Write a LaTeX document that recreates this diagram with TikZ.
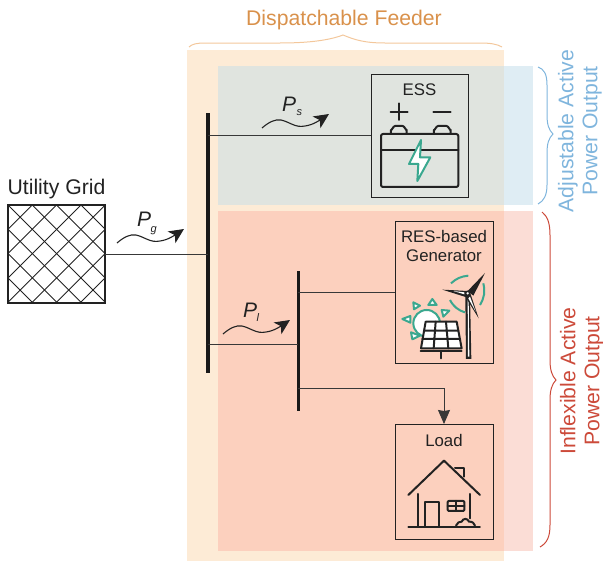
\documentclass[tikz,border=0pt]{standalone}
\usepackage{fontspec}
\setmainfont{Liberation Sans}
\usetikzlibrary{arrows.meta}
\definecolor{feederbg}{HTML}{FDEBD6}
\definecolor{adjbg}{HTML}{DFEDF4}
\definecolor{adjin}{HTML}{E0E4DF}
\definecolor{infbg}{HTML}{FBDDD6}
\definecolor{infin}{HTML}{FCD0BE}
\definecolor{orangetxt}{HTML}{D9914B}
\definecolor{orangebr}{HTML}{F3C79B}
\definecolor{bluetxt}{HTML}{7FB5DD}
\definecolor{redtxt}{HTML}{CC4A3A}
\definecolor{teal1}{HTML}{3AA88F}
\definecolor{ink}{HTML}{222222}
\tikzset{
  conn/.style={draw=ink!90,line width=0.9pt},
  box/.style={draw=ink,line width=0.9pt,inner sep=0pt,outer sep=0pt},
  bus/.style={fill=black!90,inner sep=0pt,outer sep=0pt},
  big/.style={font=\fontsize{21.2}{24}\selectfont,inner sep=0pt,align=center},
  small/.style={font=\fontsize{16.8}{19}\selectfont,text=ink,inner sep=0pt,align=center},
  flow/.style={line width=1.1pt,draw=ink,-{Stealth[length=15pt,width=14pt,inset=4pt]}},
  sym/.style={font=\fontsize{21}{21}\selectfont\itshape,text=ink,inner sep=0pt,anchor=base west},
  sub/.style={font=\fontsize{11}{11}\selectfont\itshape,text=ink,inner sep=0pt,anchor=base west},
  icon/.style={draw=ink,line width=2pt,line cap=round,line join=round},
  tealline/.style={draw=teal1,line width=2pt,line join=round},
  zoomA/.style={shift={(360,60)},x=0.3333pt,y=-0.3333pt},
  zoomB/.style={shift={(385,215)},x=0.3333pt,y=-0.3333pt},
  zoomC/.style={shift={(385,380)},x=0.3333pt,y=-0.3333pt},
}
\begin{document}
\begin{tikzpicture}[x=1pt,y=-1pt]
\useasboundingbox (0,0) rectangle (603,562);
% backgrounds
\fill[feederbg] (187,50) rectangle (504,561);
\fill[adjbg] (504,66) rectangle (533,205);
\fill[adjin] (218,66) rectangle (504,205);
\fill[infbg] (504,211) rectangle (533,551);
\fill[infin] (218,211) rectangle (504,551);
% braces
\draw[orangebr,line width=1pt] (189,47) .. controls (192,44) and (197,43) .. (205,43) -- (280,43) .. controls (310,43) and (330,40) .. (343,35) .. controls (355,40) and (365,43) .. (385,43) -- (480,43) .. controls (490,43) and (497,44) .. (502,47);
\draw[bluetxt,line width=1pt] (538,67) .. controls (544,69) and (547,74) .. (547,85) -- (547,115) .. controls (547,125) and (549,130) .. (553,134) .. controls (549,138) and (547,143) .. (547,153) -- (547,185) .. controls (547,195) and (544,201) .. (538,204);
\draw[redtxt,line width=1pt] (542,212) .. controls (547,216) and (550,222) .. (550,235) -- (550,360) .. controls (550,370) and (552,376) .. (556,380) .. controls (552,384) and (550,390) .. (550,400) -- (550,525) .. controls (550,537) and (547,543) .. (540,547);
% titles
\node[big,text=orangetxt] (feedertxt) at (344,20) {Dispatchable Feeder};
\node[big,text=bluetxt,rotate=90] (adjtxt) at (580,131) {Adjustable Active\\Power Output};
\node[big,text=redtxt,rotate=90] (inftxt) at (582,381) {Inflexible Active\\Power Output};
\node[big,text=ink] (gridtxt) at (56.5,189) {Utility Grid};
% boxes
\node[box,minimum width=97pt,minimum height=98pt] (grid) at (56.5,254) {};
\node[box,minimum width=97pt,minimum height=123pt] (ess) at (419.5,135.5) {};
\node[box,minimum width=98pt,minimum height=142pt] (res) at (444,292) {};
\node[box,minimum width=98pt,minimum height=115pt] (load) at (444,481.5) {};
\node[bus,minimum width=4pt,minimum height=260pt] (busA) at (207.5,243) {};
\node[bus,minimum width=3pt,minimum height=140pt] (busB) at (298,341) {};
% hatch
\begin{scope}
\clip (8,205) rectangle (105,303);
\foreach \k in {-4,...,8}{
  \draw[ink,line width=0.9pt] ({8+\k*24.3},205) -- ++(100,100);
  \draw[ink,line width=0.9pt] ({8+\k*24.3},205) -- ++(-100,100);
}
\end{scope}
\draw[ink,line width=1.4pt] (grid.north west) rectangle (grid.south east);
% connectors
\coordinate (tapL) at (298,344);
\coordinate (tapD) at (298,388);
\draw[conn] (grid.east) -- (grid.east -| busA.center);
\draw[conn] (ess.west) -- (ess.west -| busA.center);
\draw[conn] (busA.center |- tapL) -- (tapL);
\draw[conn] (res.west) -- (res.west -| busB.center);
\draw[conn,-{Stealth[length=14pt,width=12pt,inset=1pt]}] (tapD) -| (load.north);
% flows
\foreach \dx/\dy in {0/0,145/-115,106/91}{
  \begin{scope}[shift={(\dx,\dy)}]
  \coordinate (fa) at (117,243);
  \coordinate (fb) at (136,235);
  \coordinate (fc) at (160,241);
  \coordinate (fd) at (184,229);
  \draw[flow] (fa) .. controls (124,237) and (130,234) .. (fb) .. controls (145,237) and (150,243) .. (fc) .. controls (168,240) and (175,235) .. (fd);
  \end{scope}
}
\node[sym] (pg) at (137,226) {P};
\node[sub] (pgs) at (150.5,232) {g};
\node[sym] (ps) at (282,111) {P};
\node[sub] (pss) at (296.5,115) {s};
\node[sym] (pl) at (243,317) {P};
\node[sub] (pls) at (256.5,321) {l};
% box titles
\node[small] (esst) at (419.5,90) {ESS};
\node[small] (rest) at (444,246) {RES-based\\Generator};
\node[small] (loadt) at (444,440) {Load};
% battery
\begin{scope}[zoomA]
\draw[icon] (92,155) -- (143,155) (117,130) -- (117,180) (220,155) -- (272,155);
\draw[icon] (93,220) -- (93,210) to[out=-90,in=180,looseness=0.8] (105,198) -- (128,198) to[out=0,in=-90,looseness=0.8] (140,210) -- (140,220);
\draw[icon] (222,220) -- (222,210) to[out=-90,in=180,looseness=0.8] (234,198) -- (260,198) to[out=0,in=-90,looseness=0.8] (272,210) -- (272,220);
\draw[icon,rounded corners=2pt] (63,222) rectangle (295,381);
\draw[icon] (63,270) -- (295,270);
\draw[tealline,fill=white] (183,240) -- (147,312) -- (175,312) -- (172,363) -- (211,292) -- (180,292) -- cycle;
\end{scope}
% RES icon
\begin{scope}[zoomB]
\draw[tealline,fill=white] (125,325) circle (40);
\foreach \ax/\ay/\bx/\by/\cx/\cy in {85/262/105/272/87/283,142/252/155/270/130/270,170/285/193/287/175/305,52/312/76/303/76/323,78/352/105/362/82/373}{
  \draw[tealline,fill=white] (\ax,\ay) -- (\bx,\by) -- (\cx,\cy) -- cycle;
}
\draw[icon,fill=white] (122,320) -- (215,320) -- (230,400) -- (108,400) -- cycle;
\draw[icon] (117,347) -- (220,347) (112,372) -- (225,372) (152,320) -- (146,400) (183,320) -- (190,400);
\draw[icon] (107,408) -- (230,408) (168,408) -- (168,430);
\draw[tealline] (198,205) to[bend left=18] (250,182);
\draw[tealline] (195,255) to[bend right=22] (240,292);
\draw[tealline] (295,205) to[bend left=22] (285,270);
\fill[ink] (241,240) -- (255,240) -- (259,432) -- (243,432) -- cycle;
\fill[white] (248,250) -- (251,250) -- (253,425) -- (249,425) -- cycle;
\fill[ink] (248,228) -- (300,174) -- (265,242) -- cycle;
\fill[ink] (248,228) -- (172,224) -- (242,246) -- cycle;
\fill[ink] (256,235) -- (281,310) -- (238,240) -- cycle;
\fill[white] (255,245) -- (272,290) -- (250,250) -- cycle;
\fill[white] (238,232) -- (205,228) -- (238,238) -- cycle;
\draw[ink,fill=white,line width=1.4pt] (248,235) circle (6);
\end{scope}
% house
\begin{scope}[zoomC]
\draw[icon] (70,345) -- (177,242) -- (285,345);
\draw[icon] (210,263) -- (236,263) -- (236,290);
\draw[icon] (98,342) -- (98,440) (255,342) -- (255,415);
\draw[icon] (70,440) -- (285,440);
\draw[icon] (120,440) -- (120,365) -- (162,365) -- (162,440);
\draw[icon,rounded corners=1pt] (188,363) rectangle (238,393);
\draw[icon] (188,378) -- (238,378) (213,363) -- (213,393);
\draw[icon] (213,437) .. controls (216,428) and (224,424) .. (230,425) .. controls (234,414) and (248,414) .. (252,425) .. controls (262,424) and (268,430) .. (270,437);
\end{scope}
\end{tikzpicture}
\end{document}
